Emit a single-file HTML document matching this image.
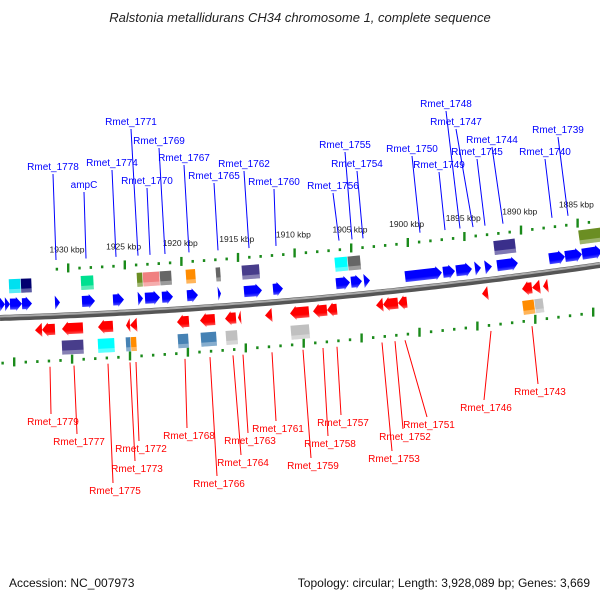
<!DOCTYPE html>
<html><head><meta charset="utf-8"><style>
body{margin:0;background:#fff;}
svg{display:block;font-family:"Liberation Sans","DejaVu Sans",sans-serif;}
</style></head><body>
<svg id="map" width="600" height="600" viewBox="0 0 600 600">
<defs>
<linearGradient id="gb" x1="0" y1="0" x2="0" y2="1"><stop offset="0" stop-color="#0000ff"/><stop offset="0.65" stop-color="#0000ff"/><stop offset="1" stop-color="#7070ff"/></linearGradient>
<linearGradient id="gr" x1="0" y1="0" x2="0" y2="1"><stop offset="0" stop-color="#ff0000"/><stop offset="0.65" stop-color="#ff0000"/><stop offset="1" stop-color="#ff7070"/></linearGradient>
</defs>
<text x="300" y="22" text-anchor="middle" font-size="13" font-style="italic" fill="#222">Ralstonia metallidurans CH34 chromosome 1, complete sequence</text>
<text x="9" y="587" font-size="12" fill="#111">Accession: NC_007973</text>
<text x="590" y="587" text-anchor="end" font-size="12" fill="#111">Topology: circular; Length: 3,928,089 bp; Genes: 3,669</text>
<g id="layer"></g>
</svg>
<script>
// kbp tick labels
const kbpLabels=["1930 kbp","1925 kbp","1920 kbp","1915 kbp","1910 kbp","1905 kbp","1900 kbp","1895 kbp","1890 kbp","1885 kbp"];
// forward genes [start,end]
const fwdStart=[0,5,10,22,55,82,113,138,145,162,187,218,244,273,336,351,364,405,443,456,475,485,497,549,565,582];
const fwdEnd=[5,10,22,32,60,95,124,143,160,173,198,221,262,283,350,362,370,442,455,472,481,492,518,565,582,602];
// reverse genes [start,end]
const revStart=[35,42,62,98,126,130,177,200,225,238,265,290,313,327,376,383,398,482,522,532,543];
const revEnd=[42,55,83,113,130,137,189,215,236,241,272,309,327,337,383,398,407,488,532,540,548];
// upper feature boxes
const upStart=[9,21,81,137,143,160,186,216,242,335,348,494,579];
const upEnd=[21,32,94,143,160,172,196,221,260,348,361,516,602];
const upColor=["#00e0f0","#000070","#00e090","#6b8e23","#f08080","#666666","#ff8c00","#666666","#483d8b","#00ffff","#666666","#3a2f8b","#6b8e23"];
// lower feature boxes
const loStart=[62,98,126,131,178,201,226,291,523,535];
const loEnd=[84,115,131,137,189,217,238,310,535,544];
const loColor=["#483d8b","#00ffff","#4682b4","#ff8c00","#4682b4","#4682b4","#c0c0c0","#c0c0c0","#ff8c00","#c0c0c0"];
// top labels
const topNames=["Rmet_1778","ampC","Rmet_1774","Rmet_1771","Rmet_1769","Rmet_1770","Rmet_1767","Rmet_1765","Rmet_1762","Rmet_1760","Rmet_1755","Rmet_1754","Rmet_1756","Rmet_1750","Rmet_1749","Rmet_1748","Rmet_1747","Rmet_1745","Rmet_1744","Rmet_1740","Rmet_1739"];
const topTextX=[53,84,112,131,159,147,184,214,244,274,345,357,333,412,439,446,456,477,492,545,558];
const topTextY=[170,188,166,125,144,184,161,179,167,185,148,167,189,152,168,107,125,155,143,155,133];
const topGeneX=[56,86,116,138,165,150,189,218,249,276,352,363,339,420,445,460,473,485,503,552,568];
// bottom labels
const botNames=["Rmet_1779","Rmet_1777","Rmet_1775","Rmet_1773","Rmet_1772","Rmet_1768","Rmet_1766","Rmet_1764","Rmet_1763","Rmet_1761","Rmet_1759","Rmet_1758","Rmet_1757","Rmet_1753","Rmet_1752","Rmet_1751","Rmet_1746","Rmet_1743"];
const botTextX=[53,79,115,137,141,189,219,243,250,278,313,330,343,394,405,429,486,540];
const botTextY=[425,445,494,472,452,439,487,466,444,432,469,447,426,462,440,428,411,395];
const botGeneX=[50,74,108,130,136,185,210,233,243,272,303,323,337,382,395,405,491,532];

const NS="http://www.w3.org/2000/svg";
const L=document.getElementById('layer');
function mk(t,a,p){const e=document.createElementNS(NS,t);for(const k in a)e.setAttribute(k,a[k]);(p||L).appendChild(e);return e;}
function quad(p){return x=>{const [[x0,y0],[x1,y1],[x2,y2]]=p;return y0*(x-x1)*(x-x2)/((x0-x1)*(x0-x2))+y1*(x-x0)*(x-x2)/((x1-x0)*(x1-x2))+y2*(x-x0)*(x-x1)/((x2-x0)*(x2-x1));};}
const fwdY=quad([[15,304],[265,290],[583,254]]);
const revY=quad([[40,330],[295,313],[530,288]]);
const bbY=quad([[0,318],[300,300],[600,265]]);
const upY=quad([[15,286],[250,272],[590,236]]);
const loY=quad([[75,347],[300,332],[530,307]]);
const tkY=quad([[10,271],[180,262],[590,222]]);
const bkY=quad([[0,363],[300,344],[590,313]]);
function ang(f,x){return Math.atan((f(x+1)-f(x-1))/2)*180/Math.PI;}

let d="M0 "+bbY(0);for(let x=5;x<=600;x+=5)d+=" L"+x+" "+bbY(x).toFixed(1);
const bbs=mk('path',{d:d,stroke:'#555',"stroke-width":6,fill:'none'});


const bbh=mk('path',{d:d,stroke:'#aaa',"stroke-width":2,fill:'none',transform:'translate(0,-1.5)'});



for(let k=-1;k<=52;k++){
  const x=68+k*11.32; if(x<0||x>600)continue;
  const y=tkY(x);
  const isMaj=((k+5)%5===0);
  const t=mk('rect',{x:x-1,y:isMaj?y-5:y-1.2,width:2.4,height:isMaj?9:2.8,fill:'#1a8a1a'});
  
  
}
for(let k=-1;k<=52;k++){
  const x=14+k*11.58; if(x<0||x>600)continue;
  const isMaj=(k%5===0); const y=bkY(x);
  const t=mk('rect',{x:x-1,y:isMaj?y-5:y-1.2,width:2.4,height:isMaj?9:2.8,fill:'#1a8a1a'});
  
  
}
kbpLabels.forEach((s,i)=>{
  const x=68+i*56.6;
  const t=mk('text',{x:x-1,y:tkY(x)-16,"text-anchor":"middle","font-size":8.5,fill:'#222'});
  t.textContent=s;
  
  
});

topNames.forEach((n,i)=>{
  const ln=mk('line',{x1:topTextX[i],y1:topTextY[i]+4,x2:topGeneX[i],y2:tkY(topGeneX[i])-9,stroke:'#0000ff',"stroke-width":1});
  
  
  const t=mk('text',{x:topTextX[i],y:topTextY[i],"text-anchor":"middle","font-size":10,fill:'#0000ff'});
  t.textContent=n;
  
  
});
botNames.forEach((n,i)=>{
  const ln=mk('line',{x1:botGeneX[i],y1:bkY(botGeneX[i])+6,x2:botTextX[i]-2,y2:botTextY[i]-11,stroke:'#ff0000',"stroke-width":1});
  
  
  const t=mk('text',{x:botTextX[i],y:botTextY[i],"text-anchor":"middle","font-size":10,fill:'#ff0000'});
  t.textContent=n;
  
  
});

function box(s,e,c,f,nm){
  const cx=(s+e)/2,y=f(cx),w=e-s;
  const g=mk('g',{transform:`translate(${cx},${y}) rotate(${ang(f,cx)})`});
  
  
  mk('rect',{x:-w/2,y:-7,width:w-0.5,height:14,fill:c},g);
  mk('rect',{x:-w/2,y:3,width:w-0.5,height:4,fill:'#fff',opacity:0.35},g);
}
upStart.forEach((s,i)=>box(s,upEnd[i],upColor[i],upY,'feature-box-top'));
loStart.forEach((s,i)=>box(s,loEnd[i],loColor[i],loY,'feature-box-bottom'));

function arrow(s,e,fwd,f,nm){
  const cx=(s+e)/2,y=f(cx),w=e-s,h=7;
  const g=mk('g',{transform:`translate(${cx},${y}) rotate(${ang(f,cx)})${fwd?'':' scale(-1,1)'}`});
  
  
  const a=-w/2,b=w/2,hd=Math.min(6,w*0.8);
  let pts;
  if(w<9) pts=`${a},${-h} ${b},0 ${a},${h}`;
  else pts=`${a},${-h+1.5} ${b-hd},${-h+1.5} ${b-hd},${-h} ${b},0 ${b-hd},${h} ${b-hd},${h-1.5} ${a},${h-1.5}`;
  mk('polygon',{points:pts,fill:fwd?'url(#gb)':'url(#gr)'},g);
}
fwdStart.forEach((s,i)=>arrow(s,fwdEnd[i],true,fwdY,'forward-gene'));
revStart.forEach((s,i)=>arrow(s,revEnd[i],false,revY,'reverse-gene'));
</script>
</body></html>
